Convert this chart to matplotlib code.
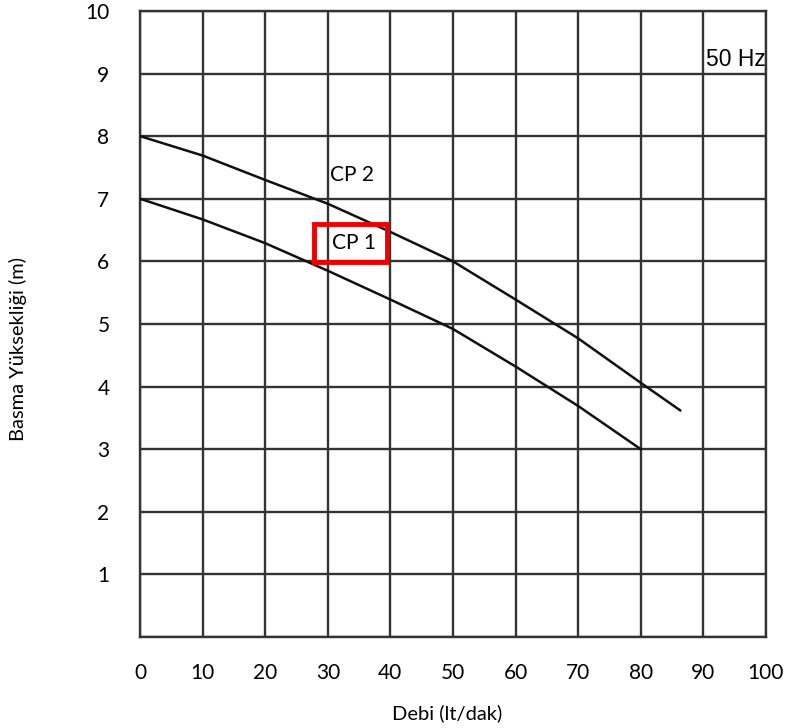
import matplotlib
matplotlib.use("Agg")
import matplotlib.pyplot as plt
from matplotlib.patches import Rectangle

# debi (lt/dak) ve basma yüksekliği (m)
cp1_x = [0, 10, 20, 30, 40, 50, 60, 70, 80]
cp1_y = [7.0, 6.67, 6.29, 5.85, 5.39, 4.92, 4.32, 3.69, 3.0]
cp2_x = [0, 10, 20, 30, 40, 50, 60, 70, 80, 86.3]
cp2_y = [8.0, 7.69, 7.30, 6.92, 6.47, 6.0, 5.39, 4.77, 4.06, 3.62]

x_ticks = list(range(0, 101, 10))
y_ticks = list(range(1, 11))

plt.rcParams['font.family'] = ['Lato', 'DejaVu Sans']

fig = plt.figure(figsize=(7.97, 7.28), dpi=100)
ax = fig.add_axes([0.1757, 0.125, 0.7853, 0.86])

grid_col = '#333333'
for xv in x_ticks:
    ax.axvline(xv, color=grid_col, lw=1.7, zorder=1)
for yv in [0] + y_ticks:
    ax.axhline(yv, color=grid_col, lw=1.7, zorder=1)

ax.plot(cp1_x, cp1_y, color='#111111', lw=1.8, zorder=3)
ax.plot(cp2_x, cp2_y, color='#111111', lw=1.8, zorder=3)

ax.set_xlim(0, 100)
ax.set_ylim(0, 10)
ax.set_xticks(x_ticks)
ax.set_yticks(y_ticks)
ax.tick_params(length=0, labelsize=15, pad=0)
ax.tick_params(axis='x', pad=19)
ax.tick_params(axis='y', pad=22)
for s in ax.spines.values():
    s.set_color(grid_col)
    s.set_linewidth(1.7)

ax.set_xlabel('Debi (lt/dak)', fontsize=14.5)
ax.set_ylabel('Basma Yüksekliği (m)', fontsize=14.5)
ax.xaxis.set_label_coords(0.49, -0.108)
ax.yaxis.set_label_coords(-0.181, 0.46)

ax.text(30.3, 7.38, 'CP 2', fontsize=15, va='center', ha='left', zorder=4)
ax.text(30.6, 6.30, 'CP 1', fontsize=15, va='center', ha='left', zorder=4)
ax.add_patch(Rectangle((27.8, 5.99), 11.7, 0.6, fill=False, edgecolor='#ee0000', lw=3.5, zorder=5))
ax.text(99.9, 9.23, '50 Hz', fontsize=16.5, va='center', ha='right',
        family=['Liberation Sans', 'DejaVu Sans'], zorder=4)

fig.savefig('out.png', dpi=100)
